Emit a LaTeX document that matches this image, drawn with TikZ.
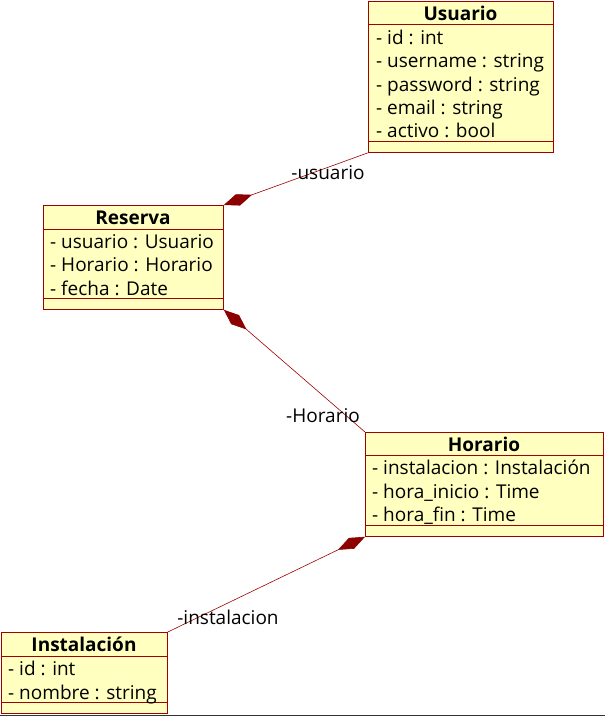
\documentclass[tikz,border=0pt]{standalone}
\usepackage{fontspec}
\setmainfont{Open Sans}
\usetikzlibrary{arrows.meta}
\definecolor{umlborder}{RGB}{160,0,0}
\definecolor{umlfill}{RGB}{255,255,192}
\definecolor{umldiamond}{RGB}{140,0,0}
\begin{document}
\begin{tikzpicture}[x=1pt,y=-1pt,
  classbox/.style={draw=umlborder, fill=umlfill, line width=0.8pt, anchor=north west, inner sep=0pt},
  title/.style={font=\fontsize{19}{21}\selectfont\bfseries, text height=17pt, text depth=3pt, inner sep=0pt},
  attr/.style={font=\fontsize{19}{21}\selectfont, anchor=west, text height=17pt, text depth=3pt, inner sep=0pt},
  sep/.style={draw=umlborder, line width=0.8pt},
  assoc/.style={draw=umlborder, line width=0.6pt, {Diamond[length=30pt,width=12pt,fill=umldiamond,color=umldiamond]}-},
  role/.style={font=\fontsize{19}{21}\selectfont, inner sep=0pt, text height=17pt, text depth=3pt}]
\useasboundingbox (0,0) rectangle (605,716);
% Usuario
\node[classbox, minimum width=185pt, minimum height=151pt] (usuario) at (368,1) {};
\draw[sep] (368,24) -- (553,24);
\draw[sep] (368,141) -- (553,141);
\node[title] (usuarioT) at (460.5,13) {Usuario};
\node[attr] (u1) at (376,37) {- id : int};
\node[attr] (u2) at (376,60) {- username : string};
\node[attr] (u3) at (376,84) {- password : string};
\node[attr] (u4) at (376,107) {- email : string};
\node[attr] (u5) at (376,130) {- activo : bool};
% Reserva
\node[classbox, minimum width=180pt, minimum height=104pt] (reserva) at (43,205) {};
\draw[sep] (43,229) -- (223,229);
\draw[sep] (43,298) -- (223,298);
\node[title] (reservaT) at (133,217) {Reserva};
\node[attr] (r1) at (50,241) {- usuario : Usuario};
\node[attr] (r2) at (50,264) {- Horario : Horario};
\node[attr] (r3) at (50,288) {- fecha : Date};
% Horario
\node[classbox, minimum width=238pt, minimum height=104pt] (horario) at (365,432) {};
\draw[sep] (365,455) -- (603,455);
\draw[sep] (365,525) -- (603,525);
\node[title] (horarioT) at (484,444) {Horario};
\node[attr] (h1) at (372,467) {- instalacion : Instalación};
\node[attr] (h2) at (372,491) {- hora\_inicio : Time};
\node[attr] (h3) at (372,514) {- hora\_fin : Time};
% Instalacion
\node[classbox, minimum width=166pt, minimum height=81pt] (instalacion) at (1,632) {};
\draw[sep] (1,656) -- (167,656);
\draw[sep] (1,702) -- (167,702);
\node[title] (instalacionT) at (84,644) {Instalación};
\node[attr] (i1) at (8,668) {- id : int};
\node[attr] (i2) at (8,692) {- nombre : string};
% connectors
\draw[assoc] (reserva.north east) -- (usuario.south west);
\draw[assoc] (reserva.south east) -- (horario.north west);
\draw[assoc] (horario.south west) -- (instalacion.north east);
\node[role] (lblU) at (328,172) {-usuario};
\node[role] (lblH) at (323,415) {-Horario};
\node[role] (lblI) at (228,617) {-instalacion};
% bottom edge line
\draw[black!80, line width=0.8pt] (0,715.5) -- (605,715.5);
\end{tikzpicture}
\end{document}
